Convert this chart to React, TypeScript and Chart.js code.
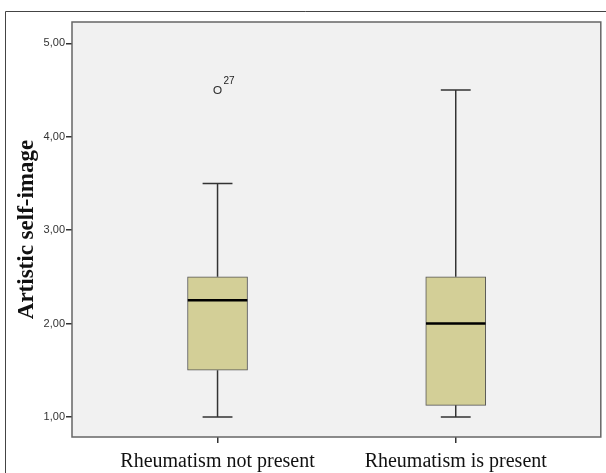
import React, { useEffect, useRef } from "react";
import { Chart, registerables } from "chart.js";

Chart.register(...registerables);

// ---- data ----
const categories = ["Rheumatism not present", "Rheumatism is present"];
const whiskerLow = [1.0, 1.0];
const q1 = [1.5, 1.125];
const median = [2.25, 2.0];
const q3 = [2.5, 2.5];
const whiskerHigh = [3.5, 4.5];
const outlierCategory = [0];
const outlierValues = [4.5];
const outlierLabels = ["27"];
const yTicks = [1, 2, 3, 4, 5];

const BOX_HALF = 0.125;
const CAP_HALF = 0.0627;

const fmt = (v: number) => v.toFixed(2).replace(".", ",");

export default function App() {
  const ref = useRef<HTMLCanvasElement | null>(null);

  useEffect(() => {
    if (!ref.current) return;
    const gap = (x: number) => ({ x, y: null as any });

    const whiskerData: any[] = [];
    const medianData: any[] = [];
    categories.forEach((_, i) => {
      whiskerData.push({ x: i, y: q3[i] }, { x: i, y: whiskerHigh[i] }, gap(i));
      whiskerData.push({ x: i - CAP_HALF, y: whiskerHigh[i] }, { x: i + CAP_HALF, y: whiskerHigh[i] }, gap(i));
      whiskerData.push({ x: i, y: q1[i] }, { x: i, y: whiskerLow[i] }, gap(i));
      whiskerData.push({ x: i - CAP_HALF, y: whiskerLow[i] }, { x: i + CAP_HALF, y: whiskerLow[i] }, gap(i));
      medianData.push({ x: i - BOX_HALF, y: median[i] }, { x: i + BOX_HALF, y: median[i] }, gap(i));
    });

    const framePlugin = {
      id: "frame",
      beforeDraw(chart: any) {
        const { ctx, chartArea: a } = chart;
        ctx.save();
        ctx.fillStyle = "#ffffff";
        ctx.fillRect(0, 0, chart.width, chart.height);
        ctx.strokeStyle = "#444";
        ctx.lineWidth = 1;
        ctx.beginPath();
        ctx.moveTo(5.5, chart.height);
        ctx.lineTo(5.5, 11.5);
        ctx.lineTo(chart.width, 11.5);
        ctx.stroke();
        ctx.fillStyle = "#f1f1f1";
        ctx.fillRect(a.left, a.top, a.right - a.left, a.bottom - a.top);
        ctx.restore();
      },
      afterDatasetsDraw(chart: any) {
        const { ctx, chartArea: a } = chart;
        ctx.save();
        ctx.strokeStyle = "#666";
        ctx.lineWidth = 1.5;
        ctx.strokeRect(a.left, a.top, a.right - a.left, a.bottom - a.top);
        // outlier labels
        const idx = chart.data.datasets.findIndex((d: any) => d.label === "outliers");
        const meta = chart.getDatasetMeta(idx);
        ctx.fillStyle = "#222";
        ctx.font = "10px 'Liberation Sans', Arial, sans-serif";
        ctx.textAlign = "left";
        ctx.textBaseline = "alphabetic";
        meta.data.forEach((pt: any, k: number) => {
          ctx.fillText(outlierLabels[k], pt.x + 6, pt.y - 6);
        });
        ctx.restore();
      },
    };

    const chart = new Chart(ref.current, {
      type: "bar",
      data: {
        datasets: [
          {
            type: "line",
            label: "median",
            data: medianData,
            borderColor: "#000",
            borderWidth: 2.5,
            pointRadius: 0,
            spanGaps: false,
            order: 0,
          } as any,
          {
            type: "scatter",
            label: "outliers",
            data: outlierValues.map((v, k) => ({ x: outlierCategory[k], y: v })),
            pointStyle: "circle",
            pointRadius: 3.5,
            borderColor: "#333",
            borderWidth: 1.2,
            backgroundColor: "rgba(0,0,0,0)",
            order: 0,
          } as any,
          {
            type: "line",
            label: "whiskers",
            data: whiskerData,
            borderColor: "#333",
            borderWidth: 1.5,
            pointRadius: 0,
            spanGaps: false,
            order: 1,
          } as any,
          {
            type: "bar",
            label: "boxes",
            data: categories.map((_, i) => ({ x: i, y: [q1[i], q3[i]] })),
            backgroundColor: "#d3cf97",
            borderColor: "#555",
            borderWidth: 1,
            borderSkipped: false,
            barThickness: 60,
            grouped: false,
            order: 2,
          } as any,
        ],
      },
      options: {
        animation: false,
        responsive: true,
        maintainAspectRatio: false,
        layout: { padding: { top: 22, right: 3, left: 0, bottom: 0 } },
        plugins: { legend: { display: false }, tooltip: { enabled: false } },
        scales: {
          x: {
            type: "linear",
            min: -0.611,
            max: 1.609,
            offset: false,
            afterBuildTicks: (s: any) => {
              s.ticks = categories.map((_, i) => ({ value: i }));
            },
            afterFit: (s: any) => {
              s.height = 36;
            },
            ticks: {
              callback: (_v: any, i: number) => categories[i],
              font: { family: "'Liberation Serif', 'Times New Roman', serif", size: 20 },
              color: "#111",
              padding: 7,
              maxRotation: 0,
              autoSkip: false,
            },
            grid: { drawOnChartArea: false, offset: false, tickLength: 6, color: "#333", lineWidth: 1.5 },
            border: { display: false },
          },
          y: {
            type: "linear",
            min: 0.786,
            max: 5.228,
            afterBuildTicks: (s: any) => {
              s.ticks = yTicks.map((v) => ({ value: v }));
            },
            afterFit: (s: any) => {
              s.width = 72;
            },
            ticks: {
              callback: (v: any) => fmt(Number(v)),
              font: { family: "'Liberation Sans', Arial, sans-serif", size: 11 },
              color: "#333",
              padding: 1,
            },
            grid: { drawOnChartArea: false, tickLength: 6, color: "#333", lineWidth: 1.5 },
            border: { display: false },
            title: {
              display: true,
              text: "Artistic self-image",
              font: { family: "'Liberation Serif', 'Times New Roman', serif", size: 23, weight: "bold" },
              color: "#111",
              padding: { top: 13, bottom: 0 },
            },
          },
        },
      },
      plugins: [framePlugin],
    });
    return () => chart.destroy();
  }, []);

  return (
    <div style={{ position: "absolute", left: 0, top: 0, width: 606, height: 473, background: "#fff" }}>
      <canvas ref={ref} />
    </div>
  );
}
